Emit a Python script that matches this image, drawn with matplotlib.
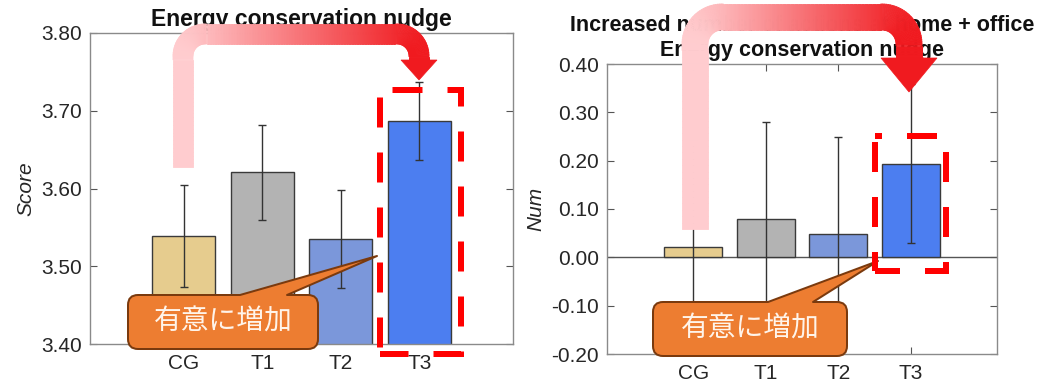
import numpy as np
import matplotlib
matplotlib.use('Agg')
import matplotlib.pyplot as plt
from matplotlib.path import Path
from matplotlib.patches import PathPatch, Polygon
from matplotlib.collections import PolyCollection

plt.rcParams['font.family'] = ['Liberation Sans', 'DejaVu Sans']
plt.rcParams['lines.scale_dashes'] = False

# ---------------- data ----------------
groups = ['CG', 'T1', 'T2', 'T3']
bar_colors = ['#E6CC8E', '#B3B3B3', '#7B97DA', '#4C7EF0']

score_mean = [3.539, 3.621, 3.535, 3.687]
score_err = [0.066, 0.061, 0.063, 0.050]
score_ticks = [3.40, 3.50, 3.60, 3.70, 3.80]

num_mean = [0.021, 0.080, 0.049, 0.194]
num_err = [0.22, 0.200, 0.199, 0.165]
num_ticks = [-0.20, -0.10, 0.00, 0.10, 0.20, 0.30, 0.40]

title_left = 'Energy conservation nudge'
title_right = 'Increased number of actions at home + office\nEnergy conservation nudge'
callout_text = '有意に増加'

PX = 0.72  # pixel -> point at dpi 100

fig = plt.figure(figsize=(10.37, 3.81), dpi=100)
W, H = 1037, 381


def add_ax(x0, y0, x1, y1):
    return fig.add_axes([x0 / W, 1 - y1 / H, (x1 - x0) / W, (y1 - y0) / H])


def style(ax):
    ax.tick_params(axis='both', direction='in', length=5, width=0.8, color='#555555',
                   labelsize=15, labelcolor='#262626', top=True, right=True)
    ax.tick_params(axis='x', pad=7)
    ax.tick_params(axis='y', pad=6)
    for s in ax.spines.values():
        s.set_color('#8a8a8a')
        s.set_linewidth(1)


x = np.arange(len(groups))

# ---------------- left chart ----------------
axL = add_ax(90, 33, 513, 344)
axL.bar(x, score_mean, width=0.8, color=bar_colors, edgecolor='#3a3a3a', linewidth=1, zorder=2)
axL.errorbar(x, score_mean, yerr=score_err, fmt='none', ecolor='#333333', elinewidth=1,
             capsize=3, capthick=1, zorder=3)
axL.set_xlim(-1.19, 4.19)
axL.set_ylim(3.40, 3.80)
axL.set_yticks(score_ticks)
axL.set_yticklabels([f'{v:.2f}' for v in score_ticks])
axL.set_xticks(x)
axL.set_xticklabels(groups)
axL.set_ylabel('Score', fontsize=15, style='italic', labelpad=4, color='#262626')
axL.set_title(title_left, fontsize=16.5, fontweight='bold', pad=5, color='#111111')
style(axL)

# ---------------- right chart ----------------
axR = add_ax(607, 64, 997, 354)
axR.bar(x, num_mean, width=0.8, color=bar_colors, edgecolor='#3a3a3a', linewidth=1, zorder=2)
axR.errorbar(x, num_mean, yerr=num_err, fmt='none', ecolor='#333333', elinewidth=1,
             capsize=3, capthick=1, zorder=3)
axR.axhline(0, color='#555555', linewidth=1, zorder=1)
axR.set_xlim(-1.19, 4.19)
axR.set_ylim(-0.20, 0.40)
axR.set_yticks(num_ticks)
axR.set_yticklabels([f'{v:.2f}' for v in num_ticks])
axR.set_xticks(x)
axR.set_xticklabels(groups)
axR.set_ylabel('Num', fontsize=15, style='italic', labelpad=4, color='#262626')
axR.set_title(title_right, fontsize=15.5, fontweight='bold', pad=6, linespacing=1.2, color='#111111')
style(axR)

# ---------------- overlay (pixel coordinates) ----------------
ov = fig.add_axes([0, 0, 1, 1], zorder=10)
ov.set_xlim(0, W)
ov.set_ylim(H, 0)
ov.axis('off')
ov.patch.set_alpha(0)

C0 = np.array([1.0, 0.80, 0.81, 1.0])
C1 = np.array([0.94, 0.10, 0.12, 1.0])


def grad_arrow(xs, ybot, yh, xe, yhb, ytip, w, r1, r2, hw):
    pts = []
    for yy in np.linspace(ybot, yh + r1, 30):
        pts.append((xs, yy))
    for a in np.linspace(np.pi, 1.5 * np.pi, 30)[1:]:
        pts.append((xs + r1 + r1 * np.cos(a), yh + r1 + r1 * np.sin(a)))
    for xx in np.linspace(xs + r1, xe - r2, 120)[1:]:
        pts.append((xx, yh))
    for a in np.linspace(1.5 * np.pi, 2 * np.pi, 30)[1:]:
        pts.append((xe - r2 + r2 * np.cos(a), yh + r2 + r2 * np.sin(a)))
    for yy in np.linspace(yh + r2, yhb + 1, 10)[1:]:
        pts.append((xe, yy))
    pts = np.array(pts)
    d = np.gradient(pts, axis=0)
    d /= np.linalg.norm(d, axis=1)[:, None]
    n = np.stack([-d[:, 1], d[:, 0]], axis=1)
    lft = pts + n * w / 2
    rgt = pts - n * w / 2
    polys, cols = [], []
    for i in range(len(pts) - 1):
        polys.append([lft[i], lft[i + 1], rgt[i + 1], rgt[i]])
        xm = (pts[i, 0] + pts[i + 1, 0]) / 2
        t = np.clip((xm - xs) / (xe - xs), 0, 1)
        cols.append(C0 * (1 - t) + C1 * t)
    ov.add_collection(PolyCollection(polys, facecolors=cols, edgecolors=cols, linewidths=0.6))
    ov.add_patch(Polygon([(xe - hw, yhb), (xe + hw, yhb), (xe, ytip)], closed=True,
                         fc=C1, ec=C1, lw=0.5))


def dashed_rect(x0, y0, x1, y1, off_a, off_b):
    ls_a = (off_a * PX, (30 * PX, 25 * PX))
    ov.plot([x0, x1, x1, x0], [y0, y0, y1, y1], color='#FF0000', lw=6 * PX,
            linestyle=ls_a, dash_capstyle='butt', dash_joinstyle='miter')
    ls_b = (off_b * PX, (30 * PX, 25 * PX))
    ov.plot([x0, x0], [y0, y1], color='#FF0000', lw=6 * PX,
            linestyle=ls_b, dash_capstyle='butt')


def callout(x0, y0, x1, y1, r, bx0, bx1, tip, cx, cy):
    M, L, C3, CL = Path.MOVETO, Path.LINETO, Path.CURVE3, Path.CLOSEPOLY
    verts = [(x0 + r, y0), (bx0, y0), tip, (bx1, y0), (x1 - r, y0),
             (x1, y0), (x1, y0 + r), (x1, y1 - r), (x1, y1), (x1 - r, y1),
             (x0 + r, y1), (x0, y1), (x0, y1 - r), (x0, y0 + r), (x0, y0), (x0 + r, y0),
             (x0 + r, y0)]
    codes = [M, L, L, L, L, C3, C3, L, C3, C3, L, C3, C3, L, C3, C3, CL]
    ov.add_patch(PathPatch(Path(verts, codes), fc='#ED7D31', ec='#7A3A0E', lw=2 * PX,
                           joinstyle='round'))
    ov.text(cx, cy, callout_text, ha='center', va='center', fontsize=20,
            color='#FFF4EA', family=['Noto Sans CJK JP', 'DejaVu Sans'])


# dashed highlight boxes
dashed_rect(379.5, 90, 461, 354, 42.5, 47.5)
dashed_rect(875, 136, 945.5, 271, 23, 49)

# callouts
callout(128, 295, 318, 349, 10, 240, 287, (377, 256), 223, 322)
callout(653, 302, 847, 356, 10, 768, 813, (878, 261), 750, 329)

# gradient arrows
grad_arrow(183, 167, 34, 419, 60, 80, 20, 22, 22, 18)
grad_arrow(695, 229, 17, 909, 58, 92, 26, 27, 27, 28)

fig.savefig('out.png', dpi=100)
